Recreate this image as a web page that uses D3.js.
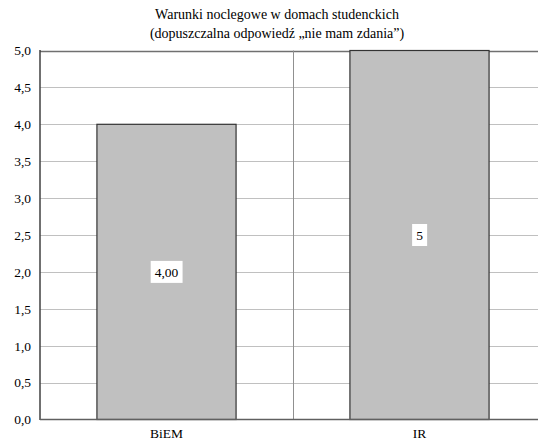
<!DOCTYPE html>
<html><head><meta charset="utf-8">
<script src="https://cdn.jsdelivr.net/npm/d3@7"></script>
<style>body{margin:0;background:#fff}svg{display:block}
svg text{font-family:"Liberation Serif","Times New Roman",Times,"DejaVu Serif",serif !important;}
</style>
</head><body>
<svg id="c" width="538" height="448"></svg>
<script>
const categories = ["BiEM", "IR"];
const values = [4.0, 5];
const valueLabels = ["4,00", "5"];
const yTicks = [0, 0.5, 1, 1.5, 2, 2.5, 3, 3.5, 4, 4.5, 5];
const titleLines = ["Warunki noclegowe w domach studenckich", "(dopuszczalna odpowiedź „nie mam zdania”)"];

const svg = d3.select("#c");
const L = 40, R = 546, T = 50.5, B = 419.5;

const x = d3.scaleBand().domain(categories).range([L, R]).paddingInner(0.45).paddingOuter(0.225);
const y = d3.scaleLinear().domain([0, 5]).range([B, T]);
const fmt = d => d.toFixed(1).replace(".", ",");

// horizontal gridlines
svg.append("g").selectAll("line").data(yTicks.filter(d => d > 0)).join("line")
  .attr("x1", L).attr("x2", 538)
  .attr("y1", d => Math.round(y(d)) + 0.5).attr("y2", d => Math.round(y(d)) + 0.5)
  .attr("stroke", d => d === 5 ? "#707070" : "#c0c0c0").attr("stroke-width", d => d === 5 ? 1.5 : 1);

// vertical category boundary gridline
const bounds = [x.step() + L];
svg.append("g").selectAll("line").data(bounds).join("line")
  .attr("x1", d => Math.round(d) + 0.5).attr("x2", d => Math.round(d) + 0.5)
  .attr("y1", T).attr("y2", B).attr("stroke", "#909090").attr("stroke-width", 1);

// bars
svg.append("g").selectAll("rect").data(categories).join("rect")
  .attr("x", d => x(d)).attr("width", x.bandwidth())
  .attr("y", (d, i) => y(values[i])).attr("height", (d, i) => B - y(values[i]))
  .attr("fill", "#c0c0c0").attr("stroke", "#333").attr("stroke-width", 1.2);

// axes lines
svg.append("line").attr("x1", L).attr("x2", L).attr("y1", T - 0.5).attr("y2", B + 0.5)
  .attr("stroke", "#404040").attr("stroke-width", 1.5);
svg.append("line").attr("x1", L).attr("x2", 538).attr("y1", B).attr("y2", B)
  .attr("stroke", "#606060").attr("stroke-width", 1.5);

// y tick labels
const yAxis = d3.axisLeft(y).tickValues(yTicks).tickFormat(fmt).tickSize(0).tickPadding(9);
const ga = svg.append("g").attr("transform", `translate(${L},0)`).call(yAxis);
ga.select(".domain").remove();
ga.attr("font-size", null);
ga.selectAll("text").style("font-size", "13.5px").attr("fill", "#000");

// x labels
const xAxis = d3.axisBottom(x).tickSize(0).tickPadding(9);
const gx = svg.append("g").attr("transform", `translate(0,${B})`).call(xAxis);
gx.select(".domain").remove();
gx.selectAll("text").style("font-size", "13.5px").attr("fill", "#000");

// value labels with white boxes
const lg = svg.append("g").selectAll("g").data(categories).join("g")
  .attr("transform", (d, i) => `translate(${x(d) + x.bandwidth() / 2},${(y(values[i]) + B) / 2})`);
lg.append("text").text((d, i) => valueLabels[i])
  .attr("text-anchor", "middle").attr("dy", "0.35em")
  .style("font-size", "13.5px").attr("fill", "#000");
lg.each(function() {
  const g = d3.select(this);
  const bb = g.select("text").node().getBBox();
  g.insert("rect", "text").attr("x", bb.x - 4).attr("y", -11).attr("width", bb.width + 8).attr("height", 22).attr("fill", "#fff");
});

// title
svg.append("g").selectAll("text").data(titleLines).join("text")
  .attr("x", 277).attr("y", (d, i) => 19 + i * 18.5)
  .attr("text-anchor", "middle").style("font-size", "14px").attr("fill", "#000")
  .text(d => d);
</script>
</body></html>
